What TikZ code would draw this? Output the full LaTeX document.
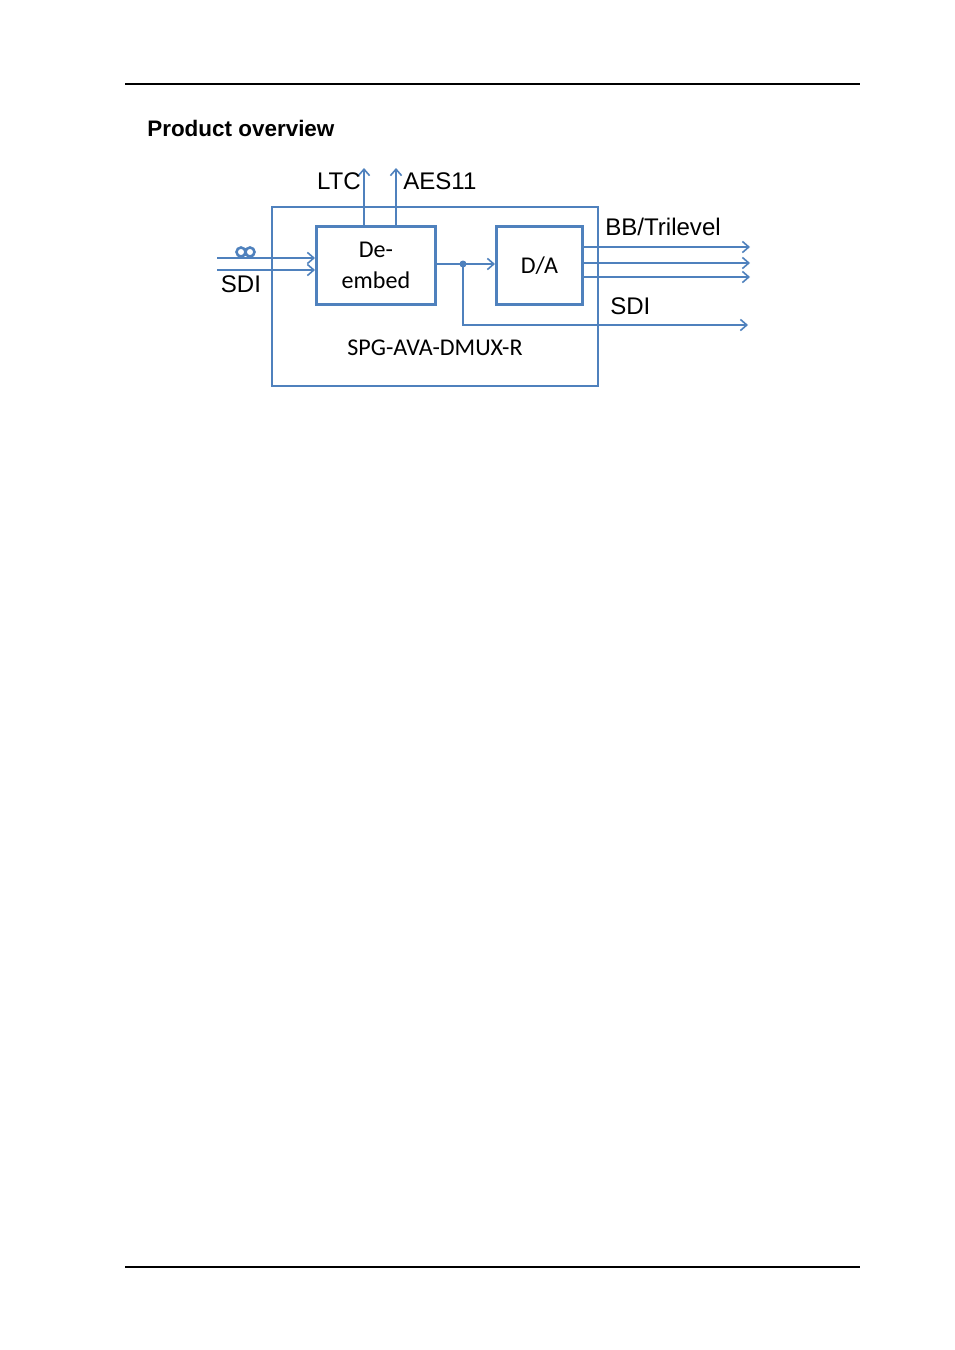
\documentclass[tikz,border=0pt]{standalone}
\usepackage{fontspec}
\setmainfont{Liberation Sans}
\newfontfamily\boxfont{Carlito}
\usetikzlibrary{arrows.meta}
\definecolor{line color}{HTML}{4F81BD}
\tikzset{
    x={0.6236pt},
    y={-0.6236pt},
    frame/.style={
        draw=line color,
        line width={1.8pt},
    },
    block/.style={
        draw=line color,
        line width={1.8pt},
        inner sep=0pt,
        anchor=north west,
        align=center,
        font={\boxfont\fontsize{15}{19}\selectfont},
    },
    signal/.style={
        draw=line color,
        line width={1pt},
        -{Straight Barb[length=4pt,width=7pt]},
    },
    signal label/.style={
        font={\fontsize{15}{18}\selectfont},
        inner sep=0pt,
    },
}
\begin{document}
\begin{tikzpicture}
% page
\useasboundingbox (0,0) rectangle (954,1350);
\draw[line width={1.3pt}] (125,84) -- (860,84);
\draw[line width={1.3pt}] (125,1267) -- (860,1267);
\node[anchor=base west, inner sep=0pt, font={\bfseries\fontsize{14}{17}\selectfont}] (title) at (147,136) {Product overview};
% blocks
\draw[frame] (272,207) rectangle (598,386);
\node[block, minimum width={119*0.6236pt}, minimum height={78*0.6236pt}] (deembed) at (315,225) {De-\\embed};
\node[block, minimum width={86*0.6236pt}, minimum height={78*0.6236pt}] (da) at (495,225) {D/A};
\node[font={\boxfont\fontsize{15}{18}\selectfont}, inner sep=0pt] (model) at (435,348) {SPG-AVA-DMUX-R};
% inputs
\coordinate (in1) at (217,258);
\coordinate (in2) at (217,270);
\draw[signal] (in1) -- (deembed.west |- in1);
\draw[signal] (in2) -- (deembed.west |- in2);
\draw[line color, line width={1.6pt}] (241,252) circle (4.5) (250,252) circle (4.5);
\node[signal label, anchor=base] (sdi in) at (241,292) {SDI};
% audio and timecode outputs
\coordinate (ltc) at (364,168);
\coordinate (aes) at (396,168);
\draw[signal] (deembed.north -| ltc) -- (ltc);
\draw[signal] (deembed.north -| aes) -- (aes);
\node[signal label, anchor=base east] (ltc label) at (361,189) {LTC};
\node[signal label, anchor=base west] (aes label) at (403,189) {AES11};
% video path
\coordinate (split) at (463,264);
\coordinate (sdi out) at (748,325);
\draw[signal] (deembed.east |- split) -- (da.west |- split);
\fill[line color] (split) circle (3.5);
\draw[signal] (split) |- (sdi out);
\node[signal label, anchor=base west] (sdi label) at (610,314) {SDI};
% reference outputs
\foreach \name/\y in {bb1/247, bb2/263, bb3/277} {
    \coordinate (\name) at (750,\y);
    \draw[signal] (da.east |- \name) -- (\name);
}
\node[signal label, anchor=base west] (bb label) at (605,235) {BB/Trilevel};
\end{tikzpicture}
\end{document}
